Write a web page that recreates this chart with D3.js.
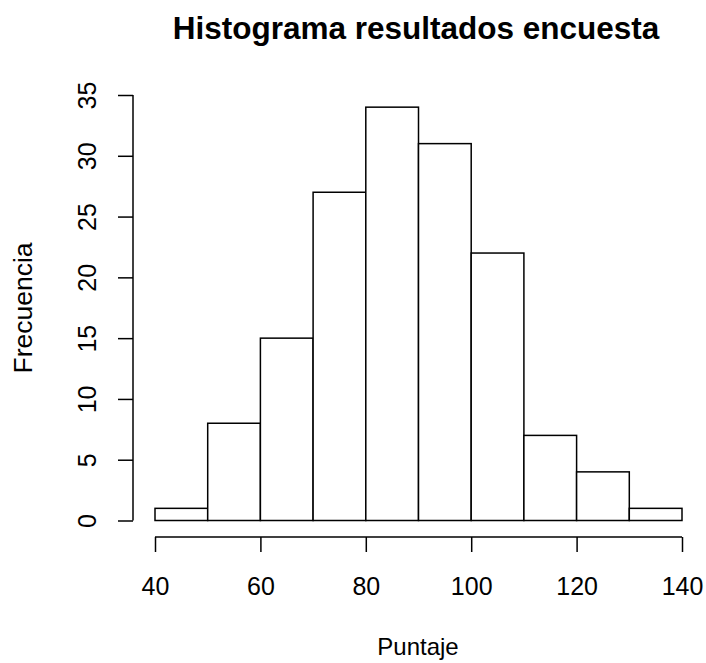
<!DOCTYPE html>
<html>
<head>
<meta charset="utf-8">
<script src="https://cdn.jsdelivr.net/npm/d3@7"></script>
<style>
  body { margin: 0; background: #fff; }
  text { font-family: "Liberation Sans", Arial, sans-serif; fill: #000; }
</style>
</head>
<body>
<div id="chart"></div>
<script>
// histogram bins and counts
const binStarts = [40, 50, 60, 70, 80, 90, 100, 110, 120, 130];
const binWidth = 10;
const counts = [1, 8, 15, 27, 34, 31, 22, 7, 4, 1];
const xTicks = [40, 60, 80, 100, 120, 140];
const yTicks = [0, 5, 10, 15, 20, 25, 30, 35];

const svgWidth = 706, svgHeight = 663;

const svg = d3.select("#chart").append("svg")
    .attr("width", svgWidth)
    .attr("height", svgHeight);

const x = d3.scaleLinear().domain([40, 140]).range([155, 682]);
const y = d3.scaleLinear().domain([0, 35]).range([520.5, 95]);

// bars
svg.append("g").selectAll("rect")
    .data(binStarts)
    .join("rect")
      .attr("x", (d) => x(d))
      .attr("y", (d, i) => y(counts[i]))
      .attr("width", (d) => x(d + binWidth) - x(d))
      .attr("height", (d, i) => y(0) - y(counts[i]))
      .attr("fill", "#fff")
      .attr("stroke", "#000")
      .attr("stroke-width", 1.5);

// x axis
const gX = svg.append("g")
    .attr("transform", "translate(0,537)")
    .call(d3.axisBottom(x).tickValues(xTicks).tickSize(15).tickSizeOuter(0));
gX.select(".domain").attr("stroke", "#000").attr("stroke-width", 1.5)
    .attr("d", `M${x(40)},0H${x(140)}`);
gX.selectAll(".tick line").attr("stroke", "#000").attr("stroke-width", 1.5);
gX.selectAll(".tick text")
    .style("font-size", "25px")
    .attr("dy", null)
    .attr("y", 58);

// y axis
const gY = svg.append("g")
    .attr("transform", "translate(133,0)")
    .call(d3.axisLeft(y).tickValues(yTicks).tickSize(15).tickSizeOuter(0));
gY.select(".domain").attr("stroke", "#000").attr("stroke-width", 1.5)
    .attr("d", `M0,${y(0)}V${y(35)}`);
gY.selectAll(".tick line").attr("stroke", "#000").attr("stroke-width", 1.5);
gY.selectAll(".tick text")
    .style("font-size", "25px")
    .attr("x", null).attr("dy", null).attr("y", 0)
    .attr("text-anchor", "middle")
    .attr("transform", "translate(-37,0) rotate(-90)");

// title and axis labels
svg.append("text")
    .attr("x", 416).attr("y", 39)
    .attr("text-anchor", "middle")
    .style("font-size", "31.5px").style("font-weight", "bold")
    .text("Histograma resultados encuesta");

svg.append("text")
    .attr("x", 418).attr("y", 655)
    .attr("text-anchor", "middle")
    .style("font-size", "24px")
    .text("Puntaje");

svg.append("text")
    .attr("transform", "translate(32,308) rotate(-90)")
    .attr("text-anchor", "middle")
    .style("font-size", "26.5px")
    .text("Frecuencia");
</script>
</body>
</html>
